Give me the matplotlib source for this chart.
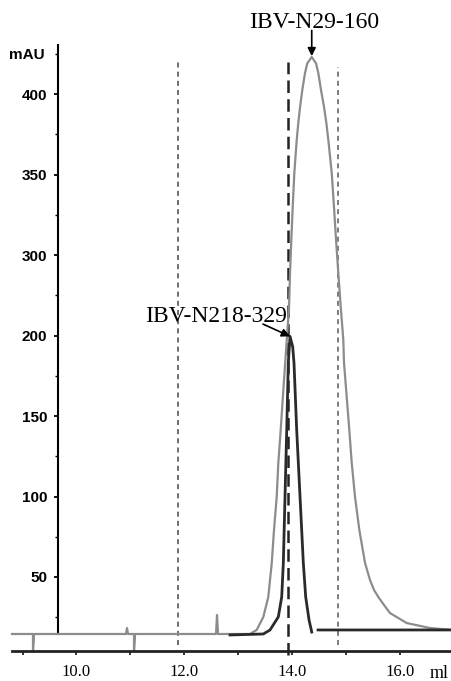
import matplotlib
matplotlib.use("Agg")
import matplotlib.pyplot as plt
import numpy as np

# ---- data (ml, mAU as drawn on the chart's axis) ----
n29_ml = [8.803, 9.193, 9.193, 9.212, 10.919, 10.937, 10.956, 11.067, 11.067, 11.086,
          12.588, 12.607, 12.625, 13.219, 13.343, 13.466, 13.558, 13.622, 13.664, 13.714,
          13.744, 13.788, 13.837, 13.943, 13.961, 13.985, 14.011, 14.041, 14.085, 14.115,
          14.147, 14.189, 14.239, 14.282, 14.364, 14.443, 14.486, 14.536, 14.592, 14.635,
          14.672, 14.735, 14.777, 14.815, 14.857, 14.902,
          14.950, 14.963, 15.013, 15.061, 15.106, 15.167, 15.247, 15.353, 15.445, 15.52,
          15.599, 15.705, 15.816, 16.126, 16.558, 16.966]
n29_mau = [14.6, 14.6, 4.0, 14.6, 14.6, 18.3, 14.6, 14.6, 4.0, 14.6,
           14.6, 26.4, 14.6, 14.6, 17.1, 25.2, 37.6, 58.7, 79.2, 99.7,
           120.8, 141.3, 166.1, 217.7, 238.8, 259.3, 279.8, 300.9, 321.4, 332.1,
           341.9, 352.5, 363.0, 369.1, 373.0, 369.1, 363.0, 352.5, 341.9, 332.1,
           321.4, 300.9, 279.8, 259.3, 238.8, 217.7,
           197.2, 182.9, 161.8, 141.3, 120.8, 99.7, 79.2, 58.7, 48.1, 41.9,
           37.6, 32.6, 27.6, 21.4, 18.3, 17.1]

n218_ml = [12.848, 13.466, 13.590, 13.744, 13.807, 13.837, 13.868, 13.900, 13.929, 13.961,
           14.011, 14.035, 14.085, 14.147, 14.208, 14.252, 14.314, 14.364, np.nan, 14.481, 16.966]
n218_mau = [14.0, 14.6, 17.1, 25.2, 37.6, 58.7, 99.7, 141.3, 182.9, 199.5,
            192.9, 182.9, 141.3, 99.7, 58.7, 37.6, 23.3, 15.8, np.nan, 17.1, 17.1]

fraction_ml = [11.883, 13.924, 14.852]

x_major = [10, 12, 14, 16]
x_labels = ["10.0", "12.0", "14.0", "16.0"]
x_minor = [9, 11, 13, 15]
y_major = [50, 100, 150, 200, 250, 300, 350]
y_labels = ["50", "100", "150", "200", "300", "350", "400"]
y_minor = [25, 75, 125, 175, 225, 275, 325, 375]

serif = ["Liberation Serif", "DejaVu Serif"]
sans = ["Liberation Sans", "DejaVu Sans"]

fig = plt.figure(figsize=(4.52, 6.81), dpi=100)
ax = fig.add_axes([0, 0, 1, 1])
ax.set_xlim(8.581, 16.966)
ax.set_ylim(-14.6, 408.4)
ax.patch.set_alpha(0)

# fraction markers
ax.vlines(fraction_ml[0], 7.8, 369.9, colors="#555555", linestyles=(0, (3, 2.5)), lw=1.2)
ax.vlines(fraction_ml[1], 1.6, 369.9, colors="#222222", linestyles=(0, (5, 2.5)), lw=1.8)
ax.vlines(fraction_ml[2], 7.8, 366.8, colors="#666666", linestyles=(0, (3, 2.5)), lw=1.2)

# traces
ax.plot(n29_ml, n29_mau, color="#8c8c8c", lw=1.6, solid_joinstyle="round")
ax.plot(n218_ml, n218_mau, color="#2a2a2a", lw=2.0, solid_joinstyle="round")

# spines
for s in ("top", "right"):
    ax.spines[s].set_visible(False)
ax.spines["left"].set_position(("data", 9.66))
ax.spines["left"].set_bounds(14.6, 380.4)
ax.spines["left"].set_linewidth(1.5)
ax.spines["left"].set_zorder(1)
ax.spines["bottom"].set_position(("data", 4.0))
ax.spines["bottom"].set_bounds(8.80, 16.966)
ax.spines["bottom"].set_linewidth(2.0)
ax.spines["bottom"].set_color("#222222")

ax.set_xticks(x_major)
ax.set_xticklabels(x_labels, fontfamily=serif, fontsize=12)
ax.set_xticks(x_minor, minor=True)
ax.set_yticks(y_major)
ax.set_yticklabels(y_labels, fontfamily=sans, fontsize=11, fontweight="bold")
ax.set_yticks(y_minor, minor=True)
ax.tick_params(axis="x", which="both", direction="out", length=3, width=1.3, pad=6, color="#222222")
ax.tick_params(axis="y", which="major", direction="out", length=3, width=1.3, pad=5)
ax.tick_params(axis="y", which="minor", direction="out", length=2, width=1.0)

ax.text(9.416, 374.2, "mAU", ha="right", va="center", fontfamily=sans, fontsize=11, fontweight="bold")
ax.text(16.56, -12.7, "ml", ha="left", va="baseline", fontfamily=serif, fontsize=13)

# annotations
ax.text(14.40, 391.0, "IBV-N29-160", ha="center", va="baseline", fontfamily=serif, fontsize=17)
ax.annotate("", xy=(14.364, 373.5), xytext=(14.364, 389.5),
            arrowprops=dict(arrowstyle="-|>", color="black", lw=1.2, mutation_scale=12,
                            shrinkA=0, shrinkB=0))
ax.text(12.58, 208.4, "IBV-N218-329", ha="center", va="baseline", fontfamily=serif, fontsize=17)
ax.annotate("", xy=(13.96, 199.5), xytext=(13.46, 207.1),
            arrowprops=dict(arrowstyle="-|>", color="black", lw=1.2, mutation_scale=12,
                            shrinkA=0, shrinkB=0))

fig.savefig("out.png", dpi=100)
